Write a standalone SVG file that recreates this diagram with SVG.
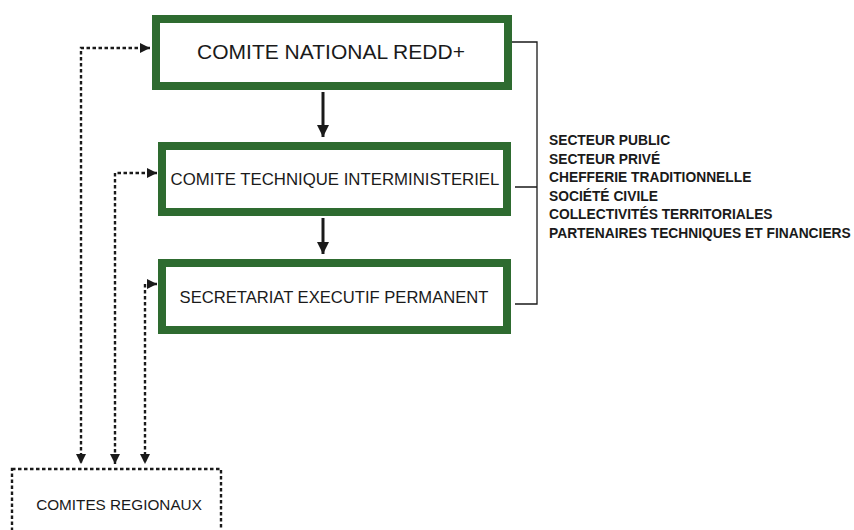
<svg xmlns="http://www.w3.org/2000/svg" width="854" height="530" viewBox="0 0 854 530">
<defs>
<style>
.box{fill:#fff;stroke:#2e6b30;stroke-width:8}
.bt{font-family:"Liberation Sans",Arial,sans-serif;fill:#1a1a1a;text-anchor:middle}
.dot{fill:none;stroke:#1a1a1a;stroke-width:2.4;stroke-dasharray:3.5 2.5}
.solid{fill:none;stroke:#1a1a1a;stroke-width:3}
.br{fill:none;stroke:#1a1a1a;stroke-width:1.3}
.lst{font-family:"Liberation Sans",Arial,sans-serif;font-weight:bold;font-size:13.8px;fill:#1a1a1a}
</style>
<marker id="ah" viewBox="0 0 10 10" refX="10" refY="5" markerWidth="10" markerHeight="10" markerUnits="userSpaceOnUse" orient="auto-start-reverse">
<path d="M0,0 L10,5 L0,10 Z" fill="#1a1a1a"/>
</marker>
<marker id="ahs" viewBox="0 0 10 10" refX="10" refY="5" markerWidth="12" markerHeight="12" markerUnits="userSpaceOnUse" orient="auto">
<path d="M0,0 L10,5 L0,10 Z" fill="#1a1a1a"/>
</marker>
</defs>
<g id="connectors">
<path class="solid" d="M323,92 V137" marker-end="url(#ahs)"/>
<path class="solid" d="M323,218 V254" marker-end="url(#ahs)"/>
<path class="dot" d="M150,48 H81 V464" marker-start="url(#ah)" marker-end="url(#ah)"/>
<path class="dot" d="M157,173 H115 V464" marker-start="url(#ah)" marker-end="url(#ah)"/>
<path class="dot" d="M157,284 H145 V464" marker-start="url(#ah)" marker-end="url(#ah)"/>
<path class="br" d="M512,42 H537 V304 H515 M515,187 H537"/>
</g>
<g id="comite-national">
<rect class="box" x="156" y="19" width="352" height="67"/>
<text class="bt" x="331" y="59" font-size="21">COMITE NATIONAL REDD+</text>
</g>
<g id="comite-technique">
<rect class="box" x="162" y="146" width="345" height="66"/>
<text class="bt" x="335" y="185" font-size="16.8">COMITE TECHNIQUE INTERMINISTERIEL</text>
</g>
<g id="secretariat">
<rect class="box" x="162" y="263" width="345" height="67"/>
<text class="bt" x="334" y="303" font-size="16.6">SECRETARIAT EXECUTIF PERMANENT</text>
</g>
<g id="membres">
<text class="lst" x="549" y="145">SECTEUR PUBLIC</text>
<text class="lst" x="549" y="163.5">SECTEUR PRIVÉ</text>
<text class="lst" x="549" y="182">CHEFFERIE TRADITIONNELLE</text>
<text class="lst" x="549" y="200.5">SOCIÉTÉ CIVILE</text>
<text class="lst" x="549" y="219">COLLECTIVITÉS TERRITORIALES</text>
<text class="lst" x="549" y="237.5">PARTENAIRES TECHNIQUES ET FINANCIERS</text>
</g>
<g id="comites-regionaux">
<rect class="dot" x="12" y="469" width="209" height="80"/>
<text x="119" y="510" font-family="'Liberation Sans',Arial,sans-serif" font-size="15.3" fill="#1a1a1a" text-anchor="middle">COMITES REGIONAUX</text>
</g>
</svg>
